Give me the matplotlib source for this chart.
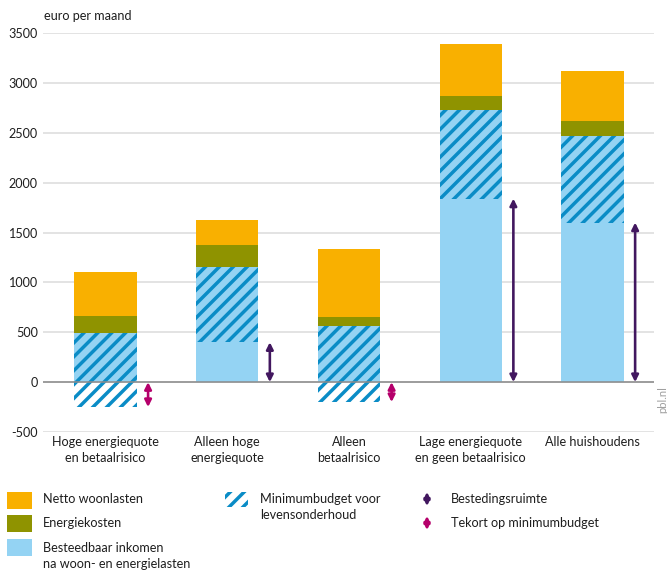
import matplotlib
matplotlib.use("Agg")
import matplotlib.pyplot as plt
from matplotlib.patches import Rectangle, FancyArrowPatch
import numpy as np

# ---- data ----
categories = ["Hoge energiequote\nen betaalrisico", "Alleen hoge\nenergiequote",
              "Alleen\nbetaalrisico", "Lage energiequote\nen geen betaalrisico",
              "Alle huishoudens"]
besteedbaar = [490, 1150, 560, 2730, 2470]     # besteedbaar inkomen na woon- en energielasten
minimumbudget = [740, 750, 760, 890, 870]      # minimumbudget voor levensonderhoud
energiekosten = [170, 220, 90, 140, 150]
woonlasten = [440, 260, 680, 520, 500]
yticks = [-500, 0, 500, 1000, 1500, 2000, 2500, 3000, 3500]

# ---- style ----
DPI = 125
W, H = 667, 572
plt.rcParams['font.family'] = ['Lato', 'DejaVu Sans']
plt.rcParams['hatch.linewidth'] = 2.0
TXT = '#1E1E1E'
ORANGE = '#F9B000'
OLIVE = '#8F9300'
LBLUE = '#94D3F3'
HATCH = '#0A8CC6'
PURPLE = '#42175F'
MAGENTA = '#B5006B'
FS = 7.3

fig = plt.figure(figsize=(W / DPI, H / DPI), dpi=DPI)
ax = fig.add_axes([43 / W, 1 - 432 / H, 611 / W, 399 / H])

x = np.arange(len(categories))
bw = 0.51
best = np.array(besteedbaar)
mini = np.array(minimumbudget)
ener = np.array(energiekosten)
woon = np.array(woonlasten)

ax.bar(x, best, bw, color=LBLUE, lw=0, zorder=2)
ax.bar(x, mini, bw, bottom=best - mini, facecolor='none', edgecolor=HATCH,
       hatch='///', lw=0, zorder=3)
ax.bar(x, ener, bw, bottom=best, color=OLIVE, lw=0, zorder=2)
ax.bar(x, woon, bw, bottom=best + ener, color=ORANGE, lw=0, zorder=2)

ruimte = best - mini
for xi, r in zip(x, ruimte):
    col = PURPLE if r > 0 else MAGENTA
    ax.annotate('', xy=(xi + 0.35, r), xytext=(xi + 0.35, 0),
                arrowprops=dict(arrowstyle='<|-|>,head_length=0.32,head_width=0.16',
                                color=col, lw=1.5, shrinkA=0, shrinkB=0),
                zorder=5)

ax.set_xlim(-0.513, 4.505)
ax.set_ylim(-500, 3500)
ax.set_yticks(yticks)
ax.set_yticklabels([str(v) for v in yticks], fontsize=FS, color=TXT)
ax.set_xticks(x)
ax.set_xticklabels(categories, fontsize=FS, color=TXT, linespacing=1.35)
ax.tick_params(axis='both', length=0)
ax.tick_params(axis='x', pad=2.5)
ax.tick_params(axis='y', pad=3)
for s in ax.spines.values():
    s.set_visible(False)
ax.grid(axis='y', color='#DCDCDC', lw=0.9, zorder=0)
ax.set_axisbelow(True)
ax.axhline(0, color='#8C8C8C', lw=0.9, zorder=4)

fig.text(44 / W, 1 - 16 / H, 'euro per maand', fontsize=FS, color=TXT,
         ha='left', va='center')
fig.text(663 / W, 1 - 400 / H, 'pbl.nl', fontsize=6.5, color='#A0A0A0',
         rotation=90, ha='center', va='center')

# ---- legend ----
def fx(px):
    return px / W

def fy(py):
    return 1 - py / H

patches = [(ORANGE, 492, "Netto woonlasten", 499),
           (OLIVE, 515, "Energiekosten", 523),
           (LBLUE, 539, "Besteedbaar inkomen\nna woon- en energielasten", 556)]
for col, ptop, label, ty in patches:
    fig.patches.append(Rectangle((fx(7), fy(ptop + 17)), 25 / W, 17 / H,
                                 transform=fig.transFigure, color=col, lw=0))
    fig.text(fx(43), fy(ty), label, fontsize=FS, color=TXT, ha='left',
             va='center', linespacing=1.45)

hp = Rectangle((fx(225), fy(507)), 23 / W, 15 / H, transform=fig.transFigure,
               facecolor='none', edgecolor=HATCH, hatch='///', lw=0)
fig.patches.append(hp)
fig.text(fx(260), fy(507), "Minimumbudget voor\nlevensonderhoud", fontsize=FS,
         color=TXT, ha='left', va='center', linespacing=1.45)

for col, ty, label in [(PURPLE, 499, "Bestedingsruimte"),
                       (MAGENTA, 523, "Tekort op minimumbudget")]:
    fig.add_artist(FancyArrowPatch(
        (fx(427), fy(ty + 7)), (fx(427), fy(ty - 7)), transform=fig.transFigure,
        arrowstyle='<|-|>,head_length=0.28,head_width=0.14', mutation_scale=10,
        color=col, lw=1.5, shrinkA=0, shrinkB=0))
    fig.text(fx(451), fy(ty), label, fontsize=FS, color=TXT, ha='left', va='center')

fig.savefig('out.png', dpi=DPI)
